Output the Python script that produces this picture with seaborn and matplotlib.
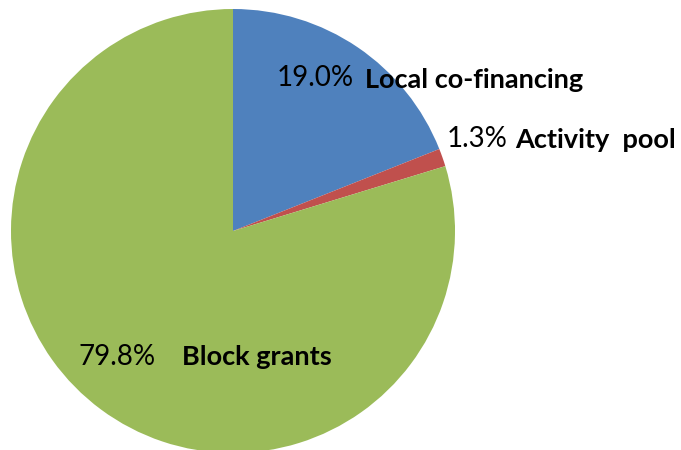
import matplotlib
matplotlib.use("Agg")
import matplotlib.pyplot as plt
import seaborn as sns

# funding shares (%)
categories = ["Local co-financing", "Activity  pool", "Block grants"]
shares = [19.0, 1.3, 79.8]
pct_labels = ["19.0%", "1.3%", "79.8%"]
colors = ["#4F81BD", "#C0504D", "#9BBB59"]

sns.set_style("white")
plt.rcParams['font.family'] = ['Lato', 'DejaVu Sans']

fig = plt.figure(figsize=(6.81, 4.5), dpi=100)
ax = fig.add_axes([0, 0, 1, 1])

# y axis is inverted below, so counterclock=True draws clockwise on screen
wedges, _ = ax.pie(shares, colors=colors, startangle=-90, counterclock=True,
                   center=(233, 231), radius=222, frame=True,
                   wedgeprops=dict(linewidth=0))
ax.set_xlim(0, 681)
ax.set_ylim(450, 0)
ax.set_aspect('equal')
ax.axis('off')

# label placement (pixel coords): percent then bold category name
pct_pos = [(277, 78), (447, 139), (79, 357)]
name_pos = [(365, 80), (515, 140), (182, 357)]
for i in range(len(categories)):
    ax.text(pct_pos[i][0], pct_pos[i][1], pct_labels[i], fontsize=20,
            ha='left', va='center', color='black')
    ax.text(name_pos[i][0], name_pos[i][1], categories[i], fontsize=19.5,
            fontweight='bold', ha='left', va='center', color='black')

fig.savefig("out.png", dpi=100)
